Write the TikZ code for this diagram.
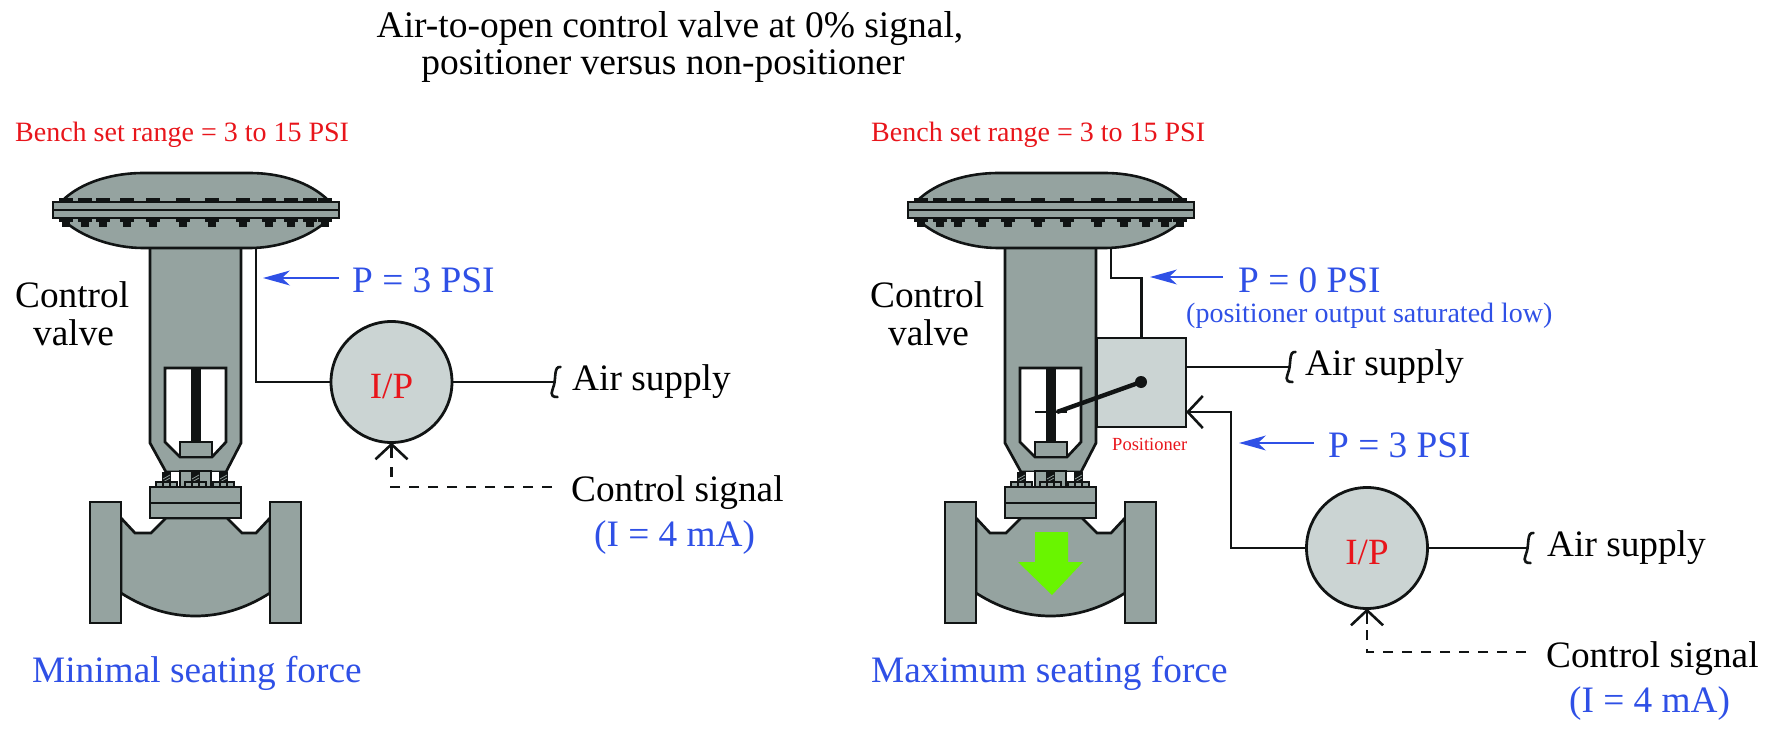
\documentclass[tikz,border=0pt]{standalone}
\usepackage{fontspec}
\setmainfont{Liberation Serif}
\usetikzlibrary{arrows.meta,calc}
\definecolor{bodygray}{HTML}{95A3A0}
\definecolor{lightgray2}{HTML}{CBD4D3}
\definecolor{sigblue}{HTML}{2F50E6}
\definecolor{sigred}{HTML}{E8151B}
\definecolor{forcegreen}{HTML}{69F500}
\definecolor{ink}{HTML}{111414}
\tikzset{
  big/.style={font=\fontsize{37.3}{38}\selectfont,inner sep=0pt,anchor=base west},
  mid/.style={font=\fontsize{28}{30}\selectfont,inner sep=0pt,anchor=base west},
  part/.style={draw=ink,line width=2.7pt,fill=bodygray,line join=miter},
  pipe/.style={draw=ink,line width=2.6pt,line join=miter},
  sigline/.style={pipe,dash pattern=on 10pt off 9pt},
  barbtip/.style={-{Straight Barb[length=15pt,width=32pt,line width=2.6pt]}},
  callout/.style={draw=sigblue,line width=2.2pt,-{Stealth[length=27pt,width=15pt,inset=8pt,line width=0pt]}},
  transducer/.style={circle,draw=ink,line width=2.8pt,fill=lightgray2,minimum size=121pt,inner sep=0pt,outer sep=0pt,
    text=sigred,font=\fontsize{37}{38}\selectfont,text height=32pt,text depth=0pt},
  squiggle/.pic={\draw[pipe,line cap=round] (5.5,-15) .. controls (-1,-16) and (1,-5) .. (-1,3) .. controls (-2.5,9) and (-7,15) .. (2.5,15);},
  ctrlvalve/.pic={
    % yoke
    \path[part] (150,240) -- (241,240) -- (241,443) -- (226,472) -- (166,472) -- (150,443) -- cycle;
    \path[draw=ink,line width=2.7pt,fill=white] (165,368) -- (226,368) -- (226,442) -- (212,457) -- (180,457) -- (165,442) -- cycle;
    \fill[ink] (191,368) rectangle (201,443);
    \path[part] (180,442) rectangle (212,457);
    % packing
    \fill[white] (161,472) rectangle (228,487);
    \path[part,line width=1.8pt] (180,471) rectangle (211,487);
    \foreach \sx in {162,191,219}{
      \fill[ink] (\sx,472) rectangle (\sx+9,483);
      \draw[bodygray,line width=0.7pt] (\sx+1,479) -- (\sx+8,475);
      \draw[bodygray,line width=0.7pt] (\sx+1,482) -- (\sx+8,478);
    }
    \foreach \nx in {156,185,213}{
      \path[part,line width=1.8pt] (\nx,482) rectangle (\nx+21,488);
      \draw[ink,line width=1.6pt] (\nx+7,482) -- (\nx+7,488) (\nx+14,482) -- (\nx+14,488);
    }
    % diaphragm
    \fill[bodygray] (62,201) .. controls (82,181) and (115,173) .. (143,173) -- (250,173) .. controls (278,173) and (309,181) .. (329,201) -- cycle;
    \draw[pipe] (62,201) .. controls (82,181) and (115,173) .. (143,173) -- (250,173) .. controls (278,173) and (309,181) .. (329,201);
    \fill[bodygray] (62,219) .. controls (82,238) and (115,248) .. (143,248) -- (250,248) .. controls (278,248) and (309,238) .. (329,219) -- cycle;
    \draw[pipe] (62,219) .. controls (82,238) and (115,248) .. (143,248) -- (250,248) .. controls (278,248) and (309,238) .. (329,219);
    \foreach \bx in {66,85,103,127,153,183,212,243,269,291,310,325}{
      \fill[ink] (\bx-7,197.5) rectangle (\bx+7,203);
      \fill[ink] (\bx-7,217) rectangle (\bx+7,222);
      \fill[ink] (\bx-4,222) rectangle (\bx+4,227);
    }
    \path[part] (53,202) rectangle (339,218);
    \draw[pipe] (53,210) -- (339,210);
    % body
    \path[part] (121,518) -- (135,533) -- (151,533) -- (166,518) -- (227,518) -- (242,533) -- (256,533) -- (270,518)
      -- (270,593) .. controls (245,609) and (220,616) .. (195.5,616) .. controls (171,616) and (146,609) .. (121,593) -- cycle;
    \path[part] (150,487) rectangle (241,518);
    \draw[pipe] (150,503) -- (241,503);
    \path[part] (90,502) rectangle (121,623);
    \path[part] (270,502) rectangle (301,623);
    \coordinate (-port) at (256,248);
  }
}
\begin{document}
\begin{tikzpicture}[x=1pt,y=-1pt]
\useasboundingbox (0,0) rectangle (1788,733);
% title
\node[font=\fontsize{37.5}{37}\selectfont,align=center,inner sep=0pt,anchor=base] (title) at (667,75)
  {\hspace*{6pt}Air-to-open control valve at 0\% signal,\\positioner versus non-positioner\hspace*{8pt}};
% valves
\pic (lv) at (0,0) {ctrlvalve};
\pic (rv) at (855,0) {ctrlvalve};
\node[mid,text=sigred] (lbench) at (15,142) {Bench set range = 3 to 15 PSI};
\node[mid,text=sigred] (rbench) at (871,142) {Bench set range = 3 to 15 PSI};
\node[big] (lname1) at (15,307) {Control};
\node[big] (lname2) at (33,345) {valve};
\node[big] (rname1) at (870,307) {Control};
\node[big] (rname2) at (888,345) {valve};
\node[big,text=sigblue] (lforce) at (32,682) {Minimal seating force};
\node[big,text=sigblue] (rforce) at (871,682) {Maximum seating force};
% left transducer
\node[transducer] (lip) at (391.5,382) {I/P};
\coordinate (lair) at (555,382);
\draw[pipe] (lv-port) |- (lip.west);
\draw[pipe] (lip.east) -- (lair);
\pic at (lair) {squiggle};
\node[big] (lairt) at (572,390) {Air supply};
\node[big] (lsigt) at (571,501) {Control signal};
\node[big,text=sigblue] (lma) at (594,546) {(I = 4 mA)};
\coordinate (lsig) at (552,487);
\draw[sigline] (lsig) -| ($(lip.south)+(0,15)$);
\draw[pipe,barbtip] ($(lip.south)+(0,15)$) -- (lip.south);
\coordinate (lct) at (339,278); \coordinate (lch) at (263,278);
\draw[callout] (lct) -- (lch);
\node[big,text=sigblue] (lpt) at (352,292) {P = 3 PSI};
% right: positioner
\coordinate (rtip) at (1057,412);
\draw[ink,line width=2.2pt] (1035,412) -- (1067,412);
\node[draw=ink,line width=2.8pt,fill=lightgray2,minimum width=89pt,minimum height=89pt,inner sep=0pt,outer sep=0pt] (pos) at (1141.5,382.5) {};
\coordinate (piv) at (1141,382);
\fill[ink] (piv) circle (6);
\draw[ink,line width=4.4pt] (piv) -- (rtip);
\draw[ink,line width=2.2pt] (1055,412) -- (1067,412);
\node[font=\fontsize{18.5}{20}\selectfont,text=sigred,inner sep=0pt,anchor=base west] (post) at (1112,450) {Positioner};
\coordinate (rbend) at (1141.5,278);
\draw[pipe] (rv-port) |- (rbend) -- (pos.north);
\coordinate (rair) at (1290,367);
\draw[pipe] (pos.east |- rair) -- (rair);
\pic at (rair) {squiggle};
\node[big] (rairt) at (1305,375) {Air supply};
\coordinate (pch) at (1150,277); \coordinate (pct) at (1223,277);
\draw[callout] (pct) -- (pch);
\node[big,text=sigblue] (pzero) at (1238,292) {P = 0 PSI};
\node[mid,text=sigblue] (psat) at (1186,322) {(positioner output saturated low)};
% right transducer
\node[transducer] (rip) at (1367,548) {I/P};
\coordinate (rbend2) at (1231,412);
\draw[pipe,barbtip] (rip.west) -| (rbend2) -- (pos.east |- rbend2);
\coordinate (rair2) at (1528,548);
\draw[pipe] (rip.east) -- (rair2);
\pic at (rair2) {squiggle};
\node[big] (rair2t) at (1547,556) {Air supply};
\node[big] (rsigt) at (1546,667) {Control signal};
\node[big,text=sigblue] (rma) at (1569,712) {(I = 4 mA)};
\coordinate (rsig) at (1526,652);
\draw[sigline] (rsig) -| ($(rip.south)+(0,15)$);
\draw[pipe,barbtip] ($(rip.south)+(0,15)$) -- (rip.south);
\coordinate (rct) at (1314,443); \coordinate (rch) at (1239,443);
\draw[callout] (rct) -- (rch);
\node[big,text=sigblue] (rpt) at (1328,457) {P = 3 PSI};
% seating force arrow
\fill[forcegreen] (1035,532) -- (1068,532) -- (1068,562) -- (1083,562) -- (1052,595) -- (1018,562) -- (1035,562) -- cycle;
\end{tikzpicture}
\end{document}
